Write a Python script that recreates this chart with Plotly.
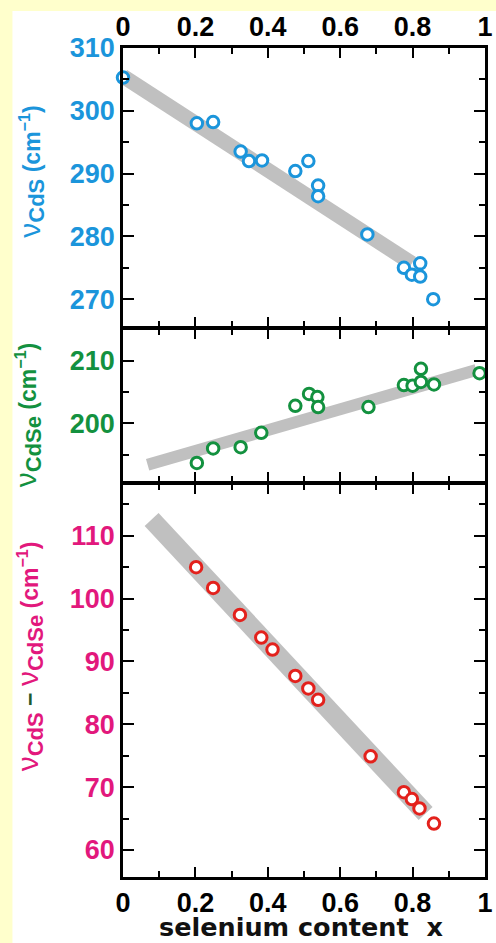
import plotly.graph_objects as go

# Selenium content x and Raman LO-phonon frequencies (cm^-1) of CdS(1-x)Se(x)
x_cds = [0.0, 0.204, 0.249, 0.325, 0.348, 0.384, 0.476, 0.512, 0.539, 0.539,
         0.675, 0.776, 0.798, 0.821, 0.821, 0.857]
nu_cds = [305.3, 298.0, 298.2, 293.5, 292.0, 292.1, 290.4, 292.0, 288.1, 286.4,
          280.3, 275.0, 273.9, 275.7, 273.6, 270.0]

x_cdse = [0.204, 0.249, 0.325, 0.382, 0.476, 0.514, 0.537, 0.539, 0.678, 0.776,
          0.800, 0.823, 0.823, 0.859, 0.985]
nu_cdse = [193.7, 196.0, 196.2, 198.5, 202.8, 204.7, 204.2, 202.6, 202.6, 206.1,
           206.0, 208.7, 206.6, 206.2, 208.0]

x_diff = [0.202, 0.249, 0.323, 0.382, 0.413, 0.476, 0.512, 0.539, 0.684, 0.776,
          0.798, 0.819, 0.859]
nu_diff = [105.0, 101.7, 97.4, 93.8, 91.9, 87.7, 85.7, 83.9, 74.9, 69.2,
           68.1, 66.6, 64.2]

# Linear trends drawn as grey bands
trend_x_cds, trend_cds = [0.0, 0.798], [305.5, 275.7]
trend_x_cdse, trend_cdse = [0.068, 0.976], [193.4, 208.5]
trend_x_diff, trend_diff = [0.079, 0.836], [112.6, 65.8]

BLUE = "#1B95DB"
GREEN = "#13913F"
RED = "#E3211C"
MAGENTA = "#E2187C"
GREY = "#C0C0C0"
YELLOW = "#FFFFCC"
FONT = "Liberation Sans"
LW = 2.5                      # frame line width (px)
PLOT_H = 943 - 48 - 66        # plot-area height (px)
GAP = LW / PLOT_H             # gap so neighbouring frame lines coincide

fig = go.Figure()

panels = [
    ("y", trend_x_cds, trend_cds, x_cds, nu_cds, BLUE, 15),
    ("y2", trend_x_cdse, trend_cdse, x_cdse, nu_cdse, GREEN, 12),
    ("y3", trend_x_diff, trend_diff, x_diff, nu_diff, RED, 19),
]
xa = {"y": "x", "y2": "x2", "y3": "x3"}
for yref, tx, ty, px, py, col, bw in panels:
    fig.add_trace(go.Scatter(x=tx, y=ty, mode="lines", xaxis=xa[yref], yaxis=yref,
                             line=dict(color=GREY, width=bw), hoverinfo="skip",
                             showlegend=False))
    fig.add_trace(go.Scatter(x=px, y=py, mode="markers", xaxis=xa[yref], yaxis=yref,
                             cliponaxis=False, showlegend=False,
                             marker=dict(symbol="circle", size=11.5, color="white",
                                         line=dict(color=col, width=3))))

tickfont_x = dict(family=FONT, size=27, color="black", weight="bold")


def xaxis(anchor, side, labels, standoff=0):
    return dict(anchor=anchor, side=side, range=[0, 1], dtick=0.2, tick0=0,
                showticklabels=labels, tickfont=tickfont_x, ticklabeloverflow="allow",
                ticklabelstandoff=standoff,
                ticks="inside", ticklen=10, tickwidth=2, tickcolor="black",
                minor=dict(ticks="inside", dtick=0.1, ticklen=6, tickwidth=2,
                           tickcolor="black"),
                showline=True, linewidth=LW, linecolor="black", mirror="allticks",
                showgrid=False, zeroline=False, fixedrange=True)


def yaxis(domain, rng, col):
    return dict(domain=domain, range=rng, dtick=10, tick0=0,
                tickfont=dict(family=FONT, size=27, color=col, weight="bold"),
                ticks="inside", ticklen=11, tickwidth=2, tickcolor="black",
                minor=dict(ticks="inside", dtick=5, ticklen=6, tickwidth=2,
                           tickcolor="black"),
                showline=True, linewidth=LW, linecolor="black", mirror="allticks",
                showgrid=False, zeroline=False, fixedrange=True)


b1, b2 = 0.6622, 0.4753       # panel boundaries (fraction of plot height)
fig.update_layout(
    width=496, height=943,
    margin=dict(l=123, r=3, t=48, b=66),
    paper_bgcolor=YELLOW, plot_bgcolor="white",
    xaxis=xaxis("y", "top", True, -2),
    xaxis2=xaxis("y2", "bottom", False),
    xaxis3=xaxis("y3", "bottom", True),
    yaxis=yaxis([b1 + GAP / 2, 1.0], [265.6, 310], BLUE),
    yaxis2=yaxis([b2 + GAP / 2, b1 - GAP / 2], [190.7, 215], GREEN),
    yaxis3=yaxis([0.0, b2 - GAP / 2], [55.7, 118.2], MAGENTA),
    shapes=[dict(type="rect", xref="paper", yref="paper", layer="below",
                 x0=-0.3054, x1=1.05, y0=-0.12, y1=1.0446,
                 fillcolor="white", line=dict(width=0))],
)

nu = '<span style="font-weight:normal;font-size:30px">ν</span>'


def sub(s):
    return f'<sub><span style="font-size:22px">{s}</span></sub>'


tail = " (cm<sup>−1</sup>)"
titles = [
    (f"{nu}{sub('CdS')}{tail}", -0.255, 0.8504, BLUE),
    (f"{nu}{sub('CdSe')}{tail}", -0.265, 0.557, GREEN),
    (f"{nu}{sub('CdS')} <span style=\"color:#1E5A2E\">−</span> {nu}{sub('CdSe')}{tail}",
     -0.259, 0.2665, MAGENTA),
]
for text, x, y, col in titles:
    fig.add_annotation(text=text, xref="paper", yref="paper", x=x, y=y,
                       xanchor="center", yanchor="middle", textangle=-90,
                       showarrow=False,
                       font=dict(family=FONT, size=23, color=col, weight="bold"))

fig.add_annotation(text="selenium content  x", xref="paper", yref="paper",
                   x=0.492, y=-66.5 / PLOT_H, xanchor="center", yanchor="bottom",
                   showarrow=False,
                   font=dict(family="DejaVu Sans", size=25.5, color="#111111",
                             weight="bold"))

fig.write_html("out.html")
